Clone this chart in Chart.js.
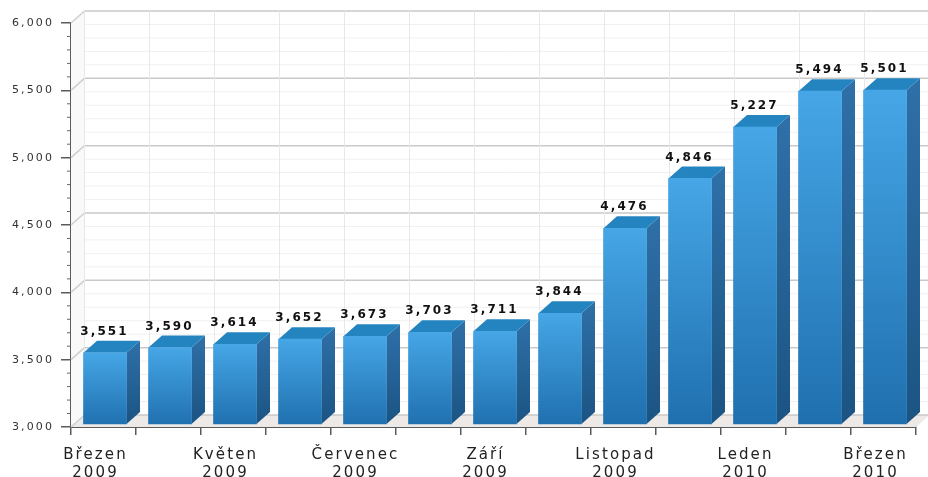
<!DOCTYPE html>
<html>
<head>
<meta charset="utf-8">
<style>
  body { margin: 0; background: #fff; }
</style>
<script src="https://cdn.jsdelivr.net/npm/chart.js@4"></script>
</head>
<body>
<canvas id="barChart" width="928" height="477"></canvas>
<script>
const months = ['Březen', 'Duben', 'Květen', 'Červen', 'Červenec', 'Srpen', 'Září', 'Říjen', 'Listopad', 'Prosinec', 'Leden', 'Únor', 'Březen'];
const years = ['2009', '2009', '2009', '2009', '2009', '2009', '2009', '2009', '2009', '2009', '2010', '2010', '2010'];
const values = [3551, 3590, 3614, 3652, 3673, 3703, 3711, 3844, 4476, 4846, 5227, 5494, 5501];
const axisMin = 3000;
const axisMax = 6000;
const majorStep = 500;
const minorStep = 100;

// how far the 3d "depth" goes back
const depthX = 13.5;
const depthY = 12;

function verticalGradient(ctx, top, bottom, from, to) {
    const g = ctx.createLinearGradient(0, top, 0, bottom);
    g.addColorStop(0, from);
    g.addColorStop(1, to);
    return g;
}

function polygon(ctx, pts, fill) {
    ctx.beginPath();
    ctx.moveTo(pts[0][0], pts[0][1]);
    pts.slice(1).forEach(p => ctx.lineTo(p[0], p[1]));
    ctx.closePath();
    ctx.fillStyle = fill;
    ctx.fill();
}

const wallPlugin = {
    id: 'wall',
    afterDatasetsUpdate(chart) {
        // bars sit a little right of the category centre
        chart.getDatasetMeta(0).data.forEach(bar => { bar.x += 1.5; });
    },
    beforeDraw(chart) {
        chart.ctx.letterSpacing = '2.1px';
    },
    beforeDatasetsDraw(chart) {
        const ctx = chart.ctx;
        const area = chart.chartArea;
        const x = chart.scales.x;
        const y = chart.scales.y;
        const wallLeft = area.left + depthX;
        const wallRight = area.right + depthX;

        ctx.save();
        // left side wall and floor
        polygon(ctx, [[area.left, area.top], [wallLeft, area.top - depthY], [wallLeft, area.bottom - depthY], [area.left, area.bottom]], '#f9f9f9');
        polygon(ctx, [[area.left, area.bottom], [wallLeft, area.bottom - depthY], [wallRight, area.bottom - depthY], [area.right, area.bottom]], '#ece9e6');

        // minor lines first so the major ones stay on top
        for (let v = axisMin; v <= axisMax; v += minorStep) {
            const py = y.getPixelForValue(v);
            const major = v % majorStep === 0;
            ctx.beginPath();
            ctx.moveTo(wallLeft, py - depthY);
            ctx.lineTo(wallRight, py - depthY);
            ctx.strokeStyle = major ? '#c9c9c9' : '#f0f0f0';
            ctx.lineWidth = major ? 1.5 : 1;
            ctx.stroke();
            if (major) {
                ctx.beginPath();
                ctx.moveTo(area.left, py);
                ctx.lineTo(wallLeft, py - depthY);
                ctx.strokeStyle = '#cfcfcf';
                ctx.stroke();
            }
            // small ticks on the axis
            if (!major) {
                ctx.beginPath();
                ctx.moveTo(area.left - 4, py);
                ctx.lineTo(area.left, py);
                ctx.strokeStyle = '#666666';
                ctx.lineWidth = 1;
                ctx.stroke();
            }
        }

        // vertical lines on the back wall
        const band = x.width / months.length;
        months.forEach((m, i) => {
            const px = wallLeft + band * i;
            ctx.beginPath();
            ctx.moveTo(px, area.top - depthY);
            ctx.lineTo(px, area.bottom - depthY);
            ctx.strokeStyle = '#e8e8e8';
            ctx.lineWidth = 1;
            ctx.stroke();
        });

        // side and top faces of the bars, the front comes from Chart.js
        chart.getDatasetMeta(0).data.forEach(bar => {
            const left = bar.x - bar.width / 2;
            const right = bar.x + bar.width / 2;
            polygon(ctx, [[right, bar.y], [right + depthX, bar.y - depthY], [right + depthX, bar.base - depthY], [right, bar.base]],
                verticalGradient(ctx, bar.y - depthY, bar.base, '#2f70a8', '#1b5483'));
            polygon(ctx, [[left, bar.y], [left + depthX, bar.y - depthY], [right + depthX, bar.y - depthY], [right, bar.y]], '#2484c0');
        });
        ctx.restore();
    },
    afterDatasetsDraw(chart) {
        const ctx = chart.ctx;
        ctx.save();
        ctx.font = 'bold 12px "DejaVu Sans"';
        ctx.fillStyle = '#111111';
        ctx.textAlign = 'center';
        ctx.textBaseline = 'middle';
        chart.getDatasetMeta(0).data.forEach((bar, i) => {
            ctx.fillText(values[i].toLocaleString('en-US'), bar.x - 0.5, bar.y - 21);
        });
        ctx.restore();
    }
};

const ctx = document.getElementById('barChart').getContext('2d');
const barChart = new Chart(ctx, {
    type: 'bar',
    data: {
        labels: months,
        datasets: [{
            data: values,
            base: 3022,
            barThickness: 43,
            backgroundColor: function (context) {
                const chart = context.chart;
                if (!chart.chartArea || context.dataIndex === undefined) return '#2a85c8';
                const top = chart.scales.y.getPixelForValue(values[context.dataIndex]);
                return verticalGradient(chart.ctx, top, chart.chartArea.bottom, '#46a6e6', '#1f6fae');
            }
        }]
    },
    options: {
        responsive: false,
        animation: false,
        layout: { padding: { top: 23, right: 12, left: 0, bottom: 0 } },
        plugins: { legend: { display: false }, tooltip: { enabled: false } },
        scales: {
            x: {
                afterFit(scale) { scale.height = 50; },
                border: { color: '#5a5a5a', width: 2 },
                grid: { drawOnChartArea: false, color: '#5a5a5a', tickLength: 8, lineWidth: 1.5 },
                ticks: {
                    autoSkip: false,
                    maxRotation: 0,
                    labelOffset: -8,
                    padding: 11,
                    color: '#222222',
                    font: { family: '"DejaVu Sans"', size: 15, lineHeight: 1.2 },
                    callback(value, index) {
                        return index % 2 === 0 ? [months[index], years[index]] : '';
                    }
                }
            },
            y: {
                min: axisMin,
                max: axisMax,
                afterFit(scale) { scale.width = 71; },
                border: { color: '#5a5a5a', width: 2 },
                grid: { drawOnChartArea: false, color: '#5a5a5a', tickLength: 10, lineWidth: 1.5 },
                ticks: {
                    stepSize: majorStep,
                    padding: 7,
                    color: '#333333',
                    font: { family: '"DejaVu Sans"', size: 11 },
                    callback(value) { return value.toLocaleString('en-US'); }
                }
            }
        }
    },
    plugins: [wallPlugin]
});
</script>
</body>
</html>
